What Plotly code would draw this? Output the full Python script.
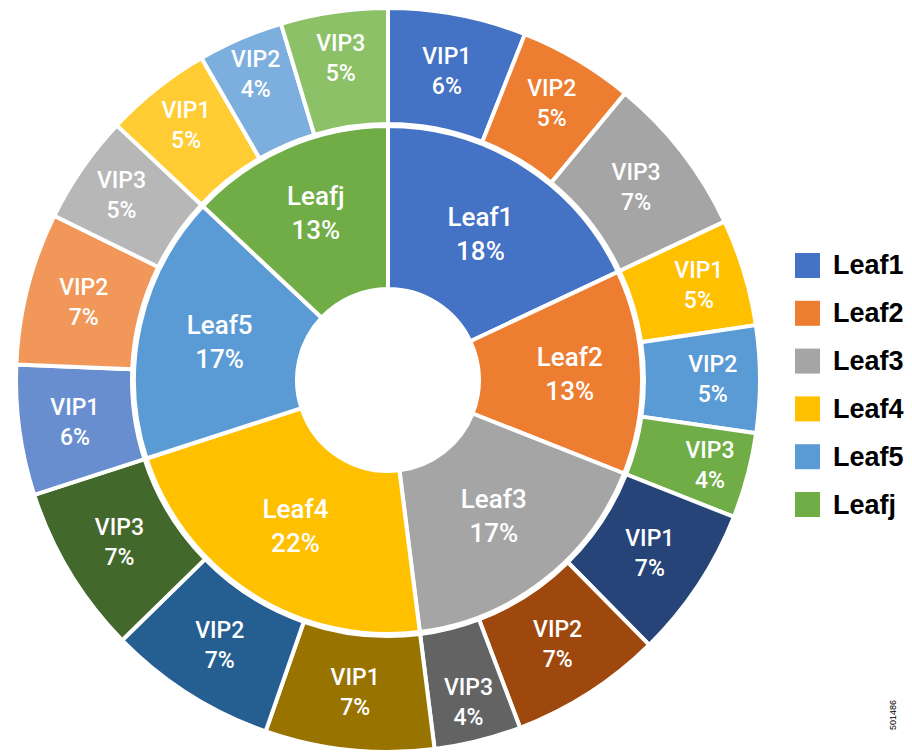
import plotly.graph_objects as go

# ---------------- data ----------------
leaves = ["Leaf1", "Leaf2", "Leaf3", "Leaf4", "Leaf5", "Leafj"]
leaf_pct = [18, 13, 17, 22, 17, 13]
leaf_colors = ["#4472C4", "#ED7D31", "#A5A5A5", "#FFC000", "#5B9BD5", "#70AD47"]

vip_names = ["VIP1", "VIP2", "VIP3"]
leaf1_vips = [6, 5, 7]
leaf2_vips = [5, 5, 4]
leaf3_vips = [7, 7, 4]
leaf4_vips = [7, 7, 7]
leaf5_vips = [6, 7, 5]
leafj_vips = [5, 4, 5]
vips_by_leaf = [leaf1_vips, leaf2_vips, leaf3_vips, leaf4_vips, leaf5_vips, leafj_vips]

vip_colors = [
    ["#4472C4", "#ED7D31", "#A5A5A5"],
    ["#FFC000", "#5B9BD5", "#70AD47"],
    ["#264478", "#9E480E", "#636363"],
    ["#997300", "#255E91", "#43682B"],
    ["#698ED0", "#F1975A", "#B7B7B7"],
    ["#FFCD33", "#7CAFDD", "#8CC168"],
]

# ---------------- build outer ring (each VIP share placed inside its leaf) ----------------
outer_labels, outer_sizes, outer_text, outer_cols = [], [], [], []
for leaf, lp, vips, cols in zip(leaves, leaf_pct, vips_by_leaf, vip_colors):
    tot = sum(vips)
    for name, v, c in zip(vip_names, vips, cols):
        outer_labels.append(f"{leaf} {name}")
        outer_sizes.append(v * lp / tot)
        outer_text.append(f"{name}<br>{v}%")
        outer_cols.append(c)

W, H = 912, 753
OFF = 8                    # page body margin offset
cx, cy = 388 - OFF, 380 - OFF
R_out, R_out_in = 372, 256
R_in, R_hole = 254, 91

def dom(r):
    return dict(x=[(cx - r) / W, (cx + r) / W],
                y=[(H - cy - r) / H, (H - cy + r) / H])

pie_font = "Roboto, Liberation Sans, Arial, sans-serif"
leg_font = "Liberation Sans, Arial, sans-serif"

fig = go.Figure()
fig.add_trace(go.Pie(
    labels=outer_labels, values=outer_sizes, text=outer_text,
    texttemplate="%{text}", textposition="inside", insidetextorientation="horizontal",
    sort=False, direction="clockwise", rotation=0,
    hole=R_out_in / R_out, domain=dom(R_out),
    marker=dict(colors=outer_cols, line=dict(color="white", width=4)),
    textfont=dict(family=pie_font, size=23, color="white", weight=500),
    showlegend=False, hoverinfo="text",
))
fig.add_trace(go.Pie(
    labels=leaves, values=leaf_pct,
    texttemplate="%{label}<br>%{value}%", textposition="inside", insidetextorientation="horizontal",
    sort=False, direction="clockwise", rotation=0,
    hole=R_hole / R_in, domain=dom(R_in),
    marker=dict(colors=leaf_colors, line=dict(color="white", width=4)),
    textfont=dict(family=pie_font, size=26, color="white", weight=500),
    showlegend=False, hoverinfo="label+percent",
))

# ---------------- legend (drawn at the right) ----------------
shapes, annotations = [], []
sq, x0, y0, pitch = 25, 795 - OFF, 253 - OFF, 47.8
for i, (name, col) in enumerate(zip(leaves, leaf_colors)):
    top = y0 + i * pitch
    shapes.append(dict(type="rect", xref="paper", yref="paper",
                       x0=x0 / W, x1=(x0 + sq) / W,
                       y0=1 - (top + sq) / H, y1=1 - top / H,
                       fillcolor=col, line=dict(width=0)))
    annotations.append(dict(text=f"<b>{name}</b>", xref="paper", yref="paper",
                            x=(x0 + sq + 11) / W, y=1 - (top + sq / 2) / H,
                            xanchor="left", yanchor="middle", showarrow=False,
                            font=dict(family=leg_font, size=27, color="black")))

annotations.append(dict(text="501486", xref="paper", yref="paper",
                        x=(893 - OFF) / W, y=1 - (715 - OFF) / H, textangle=-90, showarrow=False,
                        xanchor="center", yanchor="middle",
                        font=dict(family=leg_font, size=9, color="black")))

fig.update_layout(
    width=W, height=H, margin=dict(l=0, r=0, t=0, b=0),
    paper_bgcolor="white", plot_bgcolor="white",
    showlegend=False, shapes=shapes, annotations=annotations,
)

fig.write_html("out.html")
